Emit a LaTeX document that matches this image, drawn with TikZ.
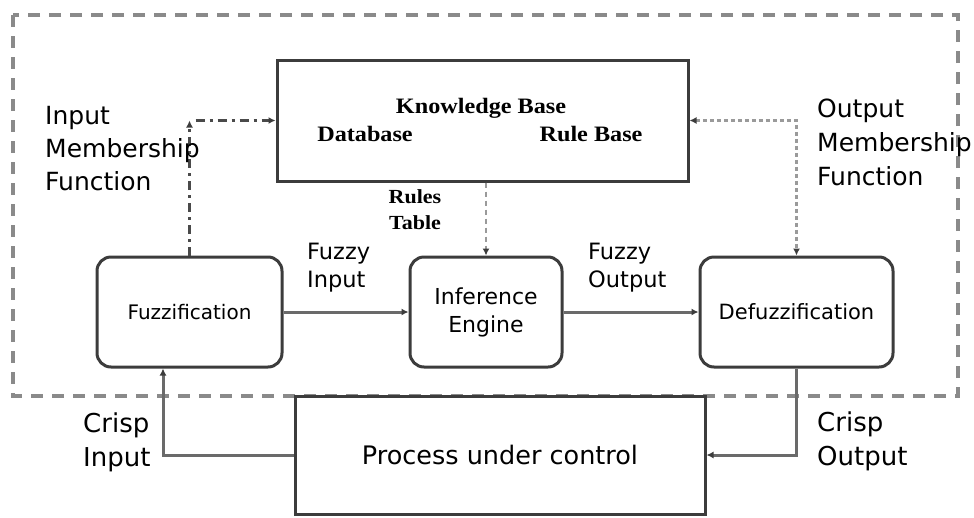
\documentclass[tikz,border=0pt]{standalone}
\usepackage{fontspec}
\setmainfont{DejaVu Sans}
\newfontfamily\kbfont[FakeStretch=1.1]{Liberation Serif}
\usetikzlibrary{arrows.meta,calc}
\definecolor{boxline}{HTML}{3C3C3C}
\definecolor{wireline}{HTML}{6A6A6A}
\definecolor{frameline}{HTML}{8A8A8A}
\definecolor{dotline}{HTML}{9A9A9A}
\definecolor{dashdotline}{HTML}{4A4A4A}
\begin{document}
\begin{tikzpicture}[x=1pt,y=-1pt,
  tip/.style={-{Latex[length=7pt,width=7pt,color=boxline]}},
  block/.style={draw=boxline, line width=3pt, rounded corners=14pt, inner sep=0pt, align=center, fill=white},
  plainbox/.style={draw=boxline, line width=3pt, inner sep=0pt, align=center, fill=white},
  wire/.style={draw=wireline, line width=3pt, tip},
  rulewire/.style={draw=dotline, line width=2.2pt, dash pattern=on 5pt off 4pt, tip},
  dashdotwire/.style={draw=dashdotline, line width=2.2pt, dash pattern=on 9pt off 5pt on 3pt off 5pt, tip},
  dotwire/.style={draw=dotline, line width=2.2pt, dash pattern=on 4pt off 3pt},
  lbl/.style={inner sep=0pt, align=left, anchor=west},
  kbtext/.style={inner sep=0pt, font=\kbfont\bfseries\fontsize{22}{26}\selectfont},
]
\useasboundingbox (0,0) rectangle (974,517);
\fill[white] (0,0) rectangle (974,517);

% dashed frame around the fuzzy controller
\draw[frameline, line width=4pt, dash pattern=on 12pt off 9pt] (13,15) rectangle (958,396);

% blocks
\node[plainbox, minimum width=411pt, minimum height=121pt] (kb) at (482.5,120.5) {};
\node[kbtext] (kbtitle) at (481,108) {Knowledge Base};
\node[kbtext] (kbdata) at (365,134) {Database};
\node[kbtext] (kbrule) at (591,134) {Rule Base};

\node[block, minimum width=185pt, minimum height=110pt, font=\fontsize{20}{24}\selectfont] (fuzz) at (189.5,312) {Fuzzification};
\node[block, minimum width=152pt, minimum height=110pt, font=\fontsize{22}{28}\selectfont] (inf) at (486,312) {Inference\\Engine};
\node[block, minimum width=193pt, minimum height=110pt, font=\fontsize{21}{24}\selectfont] (defuzz) at (796.5,312) {Defuzzification};
\node[plainbox, minimum width=410pt, minimum height=118pt, font=\fontsize{25.5}{30}\selectfont] (proc) at (500,455) {Process under control};

% main signal path
\draw[wire] (fuzz.east) -- (inf.west);
\draw[wire] (inf.east) -- (defuzz.west);

\coordinate (ciCorner) at (163,455);
\draw[wire] (proc.west) -- (ciCorner) -- (ciCorner |- fuzz.south);

\coordinate (coCorner) at (defuzz.south |- proc.east);
\draw[wire] (defuzz.south) -- (coCorner) -- (proc.east);

% knowledge base links
\draw[rulewire] (inf.north |- kb.south) -- (inf.north);

\coordinate (imfCorner) at (fuzz.north |- kb.west);
\draw[dashdotwire] (fuzz.north) -- (imfCorner);
\draw[dashdotwire] ($(imfCorner)+(6,0)$) -- (kb.west);

\coordinate (omfCorner) at (defuzz.north |- kb.east);
\draw[dotwire, {Latex[length=7pt,width=7pt,color=boxline]}-{Latex[length=7pt,width=7pt,color=boxline]}] (kb.east) -- (omfCorner) -- (defuzz.north);

% labels
\node[lbl, font=\fontsize{25}{33}\selectfont] (imf) at (45,149) {Input\\Membership\\Function};
\node[lbl, font=\fontsize{25}{34}\selectfont] (omf) at (817,142) {Output\\Membership\\Function};
\node[lbl, font=\fontsize{22.5}{28}\selectfont] (fin) at (307,268) {Fuzzy\\Input};
\node[lbl, font=\fontsize{22.5}{28}\selectfont] (fout) at (588,268) {Fuzzy\\Output};
\node[lbl, font=\fontsize{26}{34}\selectfont] (cin) at (83,442) {Crisp\\Input};
\node[lbl, font=\fontsize{26}{34}\selectfont] (cout) at (817,441) {Crisp\\Output};
\node[inner sep=0pt, align=center, font=\kbfont\bfseries\fontsize{20}{26}\selectfont] (rtab) at (415,210) {Rules\\Table};
\end{tikzpicture}
\end{document}
